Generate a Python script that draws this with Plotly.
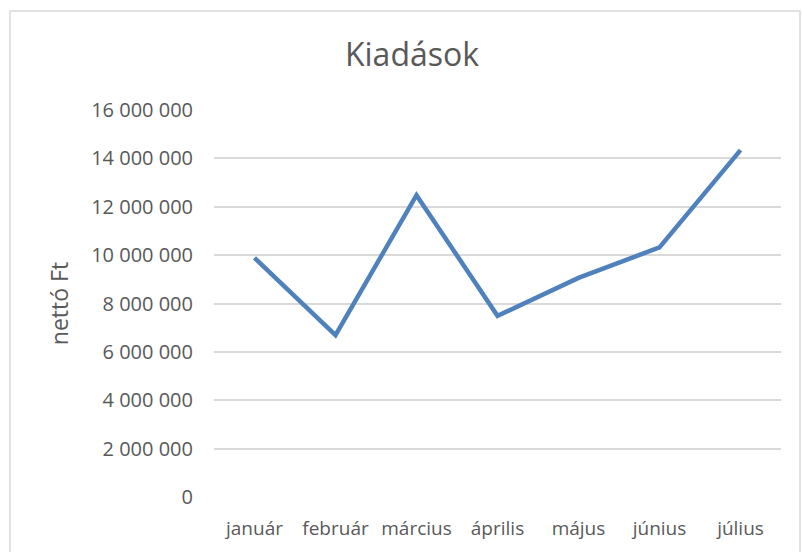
import plotly.graph_objects as go

months = ["január", "február", "március", "április", "május", "június", "július"]
values = [9890000, 6690000, 12480000, 7490000, 9060000, 10320000, 14340000]
y_ticks = [0, 2000000, 4000000, 6000000, 8000000, 10000000, 12000000, 14000000, 16000000]
y_tick_text = ["0", "2 000 000", "4 000 000", "6 000 000", "8 000 000", "10 000 000",
               "12 000 000", "14 000 000", "16 000 000"]

FONT = "Open Sans, Liberation Sans, sans-serif"
TXT = "#595959"

fig = go.Figure()
fig.add_trace(go.Scatter(
    x=months, y=values, mode="lines",
    line=dict(color="#4F81BD", width=4.5),
    hoverinfo="skip", showlegend=False,
))

L, R, T, B = 214, 21, 110, 55
W, H = 802, 552
pw, ph = W - L - R, H - T - B

fig.update_layout(
    width=W, height=H,
    margin=dict(l=L, r=R, t=T, b=B, autoexpand=False),
    paper_bgcolor="white", plot_bgcolor="white",
    font=dict(family=FONT, color=TXT, size=20),
    title=dict(text="Kiadások", x=412 / W, xref="container",
               y=1 - 55 / H, yref="container", xanchor="center", yanchor="middle",
               font=dict(family=FONT, size=32, color=TXT)),
    xaxis=dict(showgrid=False, zeroline=False, showline=False, ticks="",
               range=[-0.5, len(months) - 0.5], automargin=False,
               tickfont=dict(size=19, color=TXT), ticklabelstandoff=18),
    yaxis=dict(range=[0, 16000000], tickvals=y_ticks, ticktext=y_tick_text,
               showgrid=True, gridcolor="#D9D9D9", gridwidth=1.5, automargin=False,
               zeroline=False, showline=False, ticks="",
               tickfont=dict(size=20, color=TXT), ticklabelstandoff=20,
               title=dict(text="nettó Ft", font=dict(size=23, color=TXT), standoff=16)),
    shapes=[dict(type="rect", xref="paper", yref="paper",
                 x0=(10 - L) / pw, x1=(800 - L) / pw,
                 y0=(H - B - 570) / ph, y1=(H - B - 11) / ph,
                 line=dict(color="#D9D9D9", width=1.5), fillcolor="rgba(0,0,0,0)",
                 layer="below")],
)

fig.write_html("out.html", config={"displayModeBar": False},
               post_script="document.body.style.margin='0';")
